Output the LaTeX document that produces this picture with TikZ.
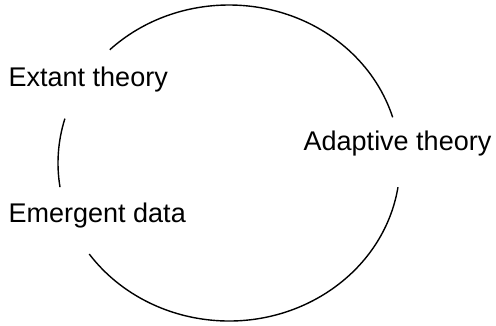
\documentclass[tikz,border=0pt]{standalone}
\usepackage{fontspec}
\setmainfont{Liberation Sans}
\begin{document}
\begin{tikzpicture}[x=1pt,y=1pt,line width=1.4pt,
  lbl/.style={anchor=base west,inner sep=0pt,font=\fontsize{27}{32}\selectfont}]
 \useasboundingbox (0,0) rectangle (496,325);
 \coordinate (o) at (229,162);
 \node[lbl] (extant) at (8,239) {Extant theory};
 \node[lbl] (adaptive) at (303,175) {Adaptive theory};
 \node[lbl] (emergent) at (8,103) {Emergent data};
 % the cycle, broken at each label
 \draw (o) ++(134.2:171 and 158) arc[start angle=134.2,end angle=16.8,x radius=171,y radius=158];
 \draw (o) ++(-8.8:171 and 158) arc[start angle=-8.8,end angle=-144.8,x radius=171,y radius=158];
 \draw (o) ++(163.7:171 and 158) arc[start angle=163.7,end angle=188.8,x radius=171,y radius=158];
\end{tikzpicture}
\end{document}
